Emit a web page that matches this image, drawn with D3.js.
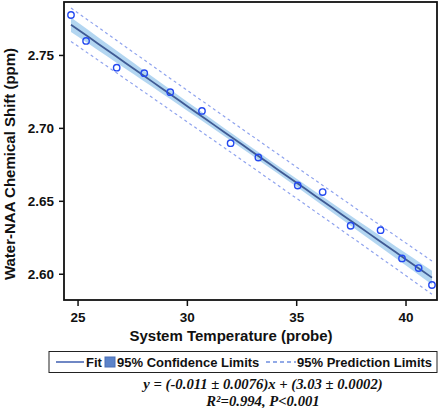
<!DOCTYPE html>
<html><head><meta charset="utf-8">
<script src="https://cdn.jsdelivr.net/npm/d3@7"></script>
<style>body{margin:0;background:#fff}svg{display:block}</style>
</head><body>
<script>
const temps = [24.70,25.39,26.79,28.05,29.24,30.69,32.00,33.27,35.07,36.21,37.49,38.86,39.84,40.60,41.21];
const shifts = [2.7774,2.7596,2.7413,2.7375,2.7245,2.7116,2.6895,2.6797,2.6605,2.6560,2.6329,2.6299,2.6105,2.6039,2.5923];
const xTicks = [25,30,35,40];
const yTicks = [2.60,2.65,2.70,2.75];
const legendLabels = ["Fit","95% Confidence Limits","95% Prediction Limits"];
const eqLines = ["y = (-0.011 ± 0.0076)x + (3.03 ± 0.0002)", "R²=0.994, P<0.001"];

const W=440,H=408;
const m={l:64,t:2,r:437,b:300};
const svg=d3.select("body").append("svg").attr("width",W).attr("height",H);
const x=d3.scaleLinear().domain([24.38,41.44]).range([m.l,m.r]);
const y=d3.scaleLinear().domain([2.582,2.7863]).range([m.b,m.t]);

// regression
const n=temps.length;
const xm=d3.mean(temps), ym=d3.mean(shifts);
let sxx=0,sxy=0;
temps.forEach((t,i)=>{sxx+=(t-xm)**2;sxy+=(t-xm)*(shifts[i]-ym);});
const b=sxy/sxx, a=ym-b*xm;
let sse=0; temps.forEach((t,i)=>{sse+=(shifts[i]-a-b*t)**2;});
const s=Math.sqrt(sse/(n-2)), tc=2.16;
const xs=d3.range(0,41).map(i=>d3.min(temps)+(d3.max(temps)-d3.min(temps))*i/40);
const band=xs.map(xx=>{const f=a+b*xx;const h=(xx-xm)**2/sxx;
  return {x:xx,f,cl:tc*s*Math.sqrt(1/n+h),pl:tc*s*Math.sqrt(1+1/n+h)};});

const g=svg.append("g");
g.append("path").datum(band).attr("fill","#abd2f0").attr("opacity",0.9)
 .attr("d",d3.area().x(d=>x(d.x)).y0(d=>y(d.f-d.cl)).y1(d=>y(d.f+d.cl)));
["+","-"].forEach(sg=>{
 g.append("path").datum(band).attr("fill","none").attr("stroke","#8fa3ee").attr("stroke-width",1.2)
  .attr("stroke-dasharray","3,3")
  .attr("d",d3.line().x(d=>x(d.x)).y(d=>y(sg=="+"?d.f+d.pl:d.f-d.pl)));
});
g.append("path").datum(band).attr("fill","none").attr("stroke","#3f5a94").attr("stroke-width",1.8)
 .attr("d",d3.line().x(d=>x(d.x)).y(d=>y(d.f)));
g.selectAll("circle").data(temps).join("circle")
 .attr("cx",d=>x(d)).attr("cy",(d,i)=>y(shifts[i])).attr("r",3.2)
 .attr("fill","none").attr("stroke","#2449f0").attr("stroke-width",1.4);

// frame
svg.append("rect").attr("x",m.l).attr("y",m.t).attr("width",m.r-m.l).attr("height",m.b-m.t)
 .attr("fill","none").attr("stroke","#111").attr("stroke-width",1.8);

const font="'Liberation Sans', Arial, sans-serif";
const xa=svg.append("g").attr("transform",`translate(0,${m.b})`)
 .call(d3.axisBottom(x).tickValues(xTicks).tickFormat(d3.format("d")).tickSize(6).tickPadding(6));
const ya=svg.append("g").attr("transform",`translate(${m.l},0)`)
 .call(d3.axisLeft(y).tickValues(yTicks).tickFormat(d3.format(".2f")).tickSize(5).tickPadding(5));
[xa,ya].forEach(ax=>{ax.select(".domain").remove();
 ax.selectAll("line").attr("stroke","#111").attr("stroke-width",1.5);
 ax.selectAll("text").attr("font-family",font).attr("font-weight","bold").attr("font-size",13.5).attr("fill","#111");});

svg.append("text").attr("x",231).attr("y",340.5).attr("text-anchor","middle")
 .attr("font-family",font).attr("font-weight","bold").attr("font-size",15).attr("fill","#111")
 .text("System Temperature (probe)");
svg.append("text").attr("transform",`translate(15,164) rotate(-90)`).attr("text-anchor","middle")
 .attr("font-family",font).attr("font-weight","bold").attr("font-size",15).attr("fill","#111")
 .text("Water-NAA Chemical Shift (ppm)");

// legend
const lg=svg.append("g");
lg.append("rect").attr("x",49).attr("y",351.5).attr("width",388).attr("height",21)
 .attr("fill","#fff").attr("stroke","#222").attr("stroke-width",1);
const ly=362;
lg.append("line").attr("x1",56).attr("x2",84).attr("y1",ly).attr("y2",ly).attr("stroke","#3f5fb0").attr("stroke-width",1.5);
lg.append("text").attr("x",86).attr("y",ly+4.5).text(legendLabels[0]);
lg.append("rect").attr("x",105).attr("y",ly-5).attr("width",10).attr("height",10).attr("fill","#5b83c9").attr("stroke","#4a6fb5");
lg.append("text").attr("x",117).attr("y",ly+4.5).text(legendLabels[1]);
lg.append("line").attr("x1",266).attr("x2",296).attr("y1",ly).attr("y2",ly).attr("stroke","#6f8ee0").attr("stroke-width",1.5).attr("stroke-dasharray","4,3");
lg.append("text").attr("x",297).attr("y",ly+4.5).text(legendLabels[2]);
lg.selectAll("text").attr("font-family",font).attr("font-weight","bold").attr("font-size",13).attr("fill","#111");

eqLines.forEach((t,i)=>{
 svg.append("text").attr("x",263).attr("y",388.5+i*17.5).attr("text-anchor","middle")
  .attr("font-family","'Liberation Serif','Times New Roman',serif").attr("font-weight","bold")
  .attr("font-style","italic").attr("font-size",14.7).attr("fill","#111").text(t);
});
</script>
</body></html>
